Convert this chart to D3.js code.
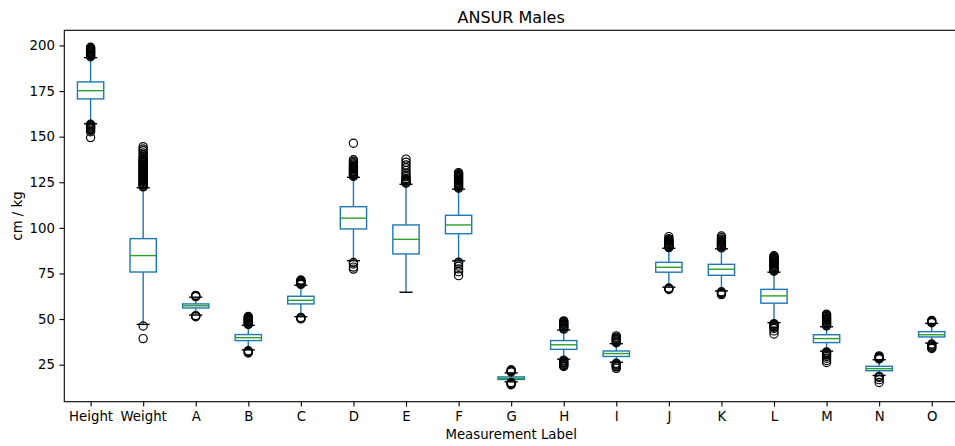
<!DOCTYPE html>
<html>
<head>
<meta charset="utf-8">
<script src="https://cdn.jsdelivr.net/npm/d3@7"></script>
<style>
  html, body { margin: 0; padding: 0; background: #fff; }
  svg { display: block; font-family: "DejaVu Sans", sans-serif; }
</style>
</head>
<body>
<svg id="chart" width="955" height="446"></svg>
<script>
const categories = ["Height","Weight","A","B","C","D","E","F","G","H","I","J","K","L","M","N","O"];
const q1         = [170.7, 75.8, 56.1, 38.2, 58.3,  99.4,  85.7,  96.8, 16.9, 33.4, 29.5, 75.7, 74.0, 58.7, 37.1, 21.7, 40.2];
const medians    = [175.2, 84.8, 57.3, 39.8, 60.3, 105.3,  93.7, 101.6, 17.5, 35.9, 31.1, 78.4, 77.3, 62.7, 39.3, 22.8, 41.4];
const q3         = [180.0, 94.1, 58.3, 41.5, 62.5, 111.6, 101.6, 106.9, 18.3, 38.2, 32.5, 81.1, 80.0, 66.3, 41.4, 24.1, 43.1];
const whiskerLow = [157.1, 47.1, 52.2, 33.1, 51.3,  82.0,  64.7,  81.9, 15.6, 28.0, 26.3, 67.5, 65.4, 48.0, 32.4, 19.1, 36.8];
const whiskerHigh= [193.3,122.0, 62.0, 46.6, 68.5, 127.7, 123.9, 121.2, 20.5, 44.0, 36.5, 88.8, 88.5, 75.7, 45.8, 27.7, 47.6];
const outliers = [
  [193.8,194.2,194.6,195.0,195.4,195.8,196.2,196.6,197.0,197.4,197.8,198.2,198.6,199.0,
   156.8,156.3,155.8,155.3,154.8,154.3,153.5,152.7,149.5],
  [122.5,123,123.5,124,124.5,125,125.5,126,126.5,127,127.5,128,128.5,129,129.5,130,130.5,131,131.5,132,
   132.5,133,133.5,134,134.5,135,135.5,136,136.5,137,137.5,138.2,139,140,141,142.3,143.2,144.5,
   46.2,39.3],
  [62.3,62.7,63.0, 51.9,51.6,51.3],
  [47.0,47.4,47.8,48.2,48.6,49.0,49.4,49.8,50.2,50.6,51.0,51.4, 32.6,32.2,31.8,31.4],
  [69.0,69.4,69.8,70.2,70.6,71.0,71.4, 50.9,50.5,50.1],
  [128.2,128.7,129.2,129.7,130.2,130.7,131.2,131.7,132.2,132.7,133.2,133.7,134.3,135.0,135.7,136.5,137.3,146.4,
   81.0,80.2,78.5,77.4],
  [124.5,125,125.5,126,126.5,127,128,129,130,131.5,133,134.5,136,137.7],
  [121.7,122.2,122.7,123.2,123.7,124.2,124.7,125.2,125.7,126.2,126.7,127.2,127.7,128.2,128.7,129.2,129.7,130.3,
   81.2,80.3,79.0,77.5,76.0,73.8],
  [21.0,21.4,21.8,22.2, 15.2,14.8,14.4,14.0],
  [44.5,45,45.5,46,46.5,47,47.5,48,48.5,49, 27.5,27,26.5,26,25.5,25,24.5,24],
  [37,37.5,38,38.5,39,39.5,40,40.8, 25.8,25.3,24.8,24.3,23.8,23.0],
  [89.2,89.6,90,90.4,90.8,91.2,91.6,92,92.5,93,93.5,94,95.2, 67.0,66.6,66.2],
  [89,89.5,90,90.5,91,91.5,92,92.5,93,93.8,94.6,95.5, 65.0,64.5,64.0,63.4],
  [76.2,76.7,77.2,77.7,78.2,78.7,79.2,79.7,80.2,80.7,81.2,81.7,82.2,82.7,83.2,83.7,84.2,84.7,
   47.5,47,46.5,46,45.5,44.8,43.5,41.8],
  [46.3,46.8,47.3,47.8,48.3,48.8,49.3,49.8,50.3,50.8,51.4,52.0,52.7, 32,31.5,31,30.3,29.5,28.5,27.3,26.2],
  [28.1,28.5,28.9,29.3,29.8, 18.6,18.0,16.8,15.2],
  [48.0,48.4,48.8,49.2, 36.3,35.8,35.3,34.8,34.3,33.9]
];
const yTicks = [25, 50, 75, 100, 125, 150, 175, 200];
const title = "ANSUR Males";
const xLabel = "Measurement Label";
const yLabel = "cm / kg";

const svg = d3.select("#chart");
const padL = 64.3, padR = 958, padT = 30.3, padB = 401.7;

const x = d3.scaleLinear().domain([0.5, categories.length + 0.5]).range([padL, padR]);
const y = d3.scaleLinear().domain([4.7, 208.3]).range([padB, padT]);
const step = x(2) - x(1);
const boxW = step * 0.5, capW = step * 0.25;

const blue = "#1f77b4", green = "#2ca02c";
const g = svg.append("g");

categories.forEach((c, i) => {
  const cx = x(i + 1);
  const gg = g.append("g");
  gg.append("line").attr("x1", cx).attr("x2", cx).attr("y1", y(q1[i])).attr("y2", y(whiskerLow[i]))
    .attr("stroke", blue).attr("stroke-width", 1.4);
  gg.append("line").attr("x1", cx).attr("x2", cx).attr("y1", y(q3[i])).attr("y2", y(whiskerHigh[i]))
    .attr("stroke", blue).attr("stroke-width", 1.4);
  [whiskerLow[i], whiskerHigh[i]].forEach(v => {
    gg.append("line").attr("x1", cx - capW / 2).attr("x2", cx + capW / 2).attr("y1", y(v)).attr("y2", y(v))
      .attr("stroke", "#000").attr("stroke-width", 1.4);
  });
  gg.append("rect").attr("x", cx - boxW / 2).attr("width", boxW)
    .attr("y", y(q3[i])).attr("height", y(q1[i]) - y(q3[i]))
    .attr("fill", "none").attr("stroke", blue).attr("stroke-width", 1.4);
  gg.append("line").attr("x1", cx - boxW / 2).attr("x2", cx + boxW / 2)
    .attr("y1", y(medians[i])).attr("y2", y(medians[i]))
    .attr("stroke", green).attr("stroke-width", 1.4);
  gg.selectAll("circle").data(outliers[i]).join("circle")
    .attr("cx", cx).attr("cy", d => y(d)).attr("r", 4.1)
    .attr("fill", "none").attr("stroke", "#000").attr("stroke-width", 1.2);
});

const yAxis = d3.axisLeft(y).tickValues(yTicks).tickSize(4.9).tickPadding(4.5).tickFormat(d3.format("d"));
const ya = svg.append("g").attr("transform", `translate(${padL},0)`).call(yAxis);
const xAxis = d3.axisBottom(x).tickValues(d3.range(1, categories.length + 1))
  .tickSize(4.9).tickPadding(5).tickFormat(d => categories[d - 1]);
const xa = svg.append("g").attr("transform", `translate(0,${padB})`).call(xAxis);
[ya, xa].forEach(a => {
  a.select(".domain").remove();
  a.selectAll(".tick line").attr("stroke", "#000").attr("stroke-width", 1.1);
  a.selectAll(".tick text").attr("fill", "#000").style("font-size", "13.3px")
    .style("font-family", "'DejaVu Sans', sans-serif");
});
svg.append("rect").attr("x", padL).attr("y", padT).attr("width", padR - padL).attr("height", padB - padT)
  .attr("fill", "none").attr("stroke", "#000").attr("stroke-width", 1.1);

svg.append("text").attr("x", (padL + padR) / 2).attr("y", 23).attr("text-anchor", "middle")
  .style("font-size", "16px").attr("fill", "#000").text(title);
svg.append("text").attr("x", (padL + padR) / 2).attr("y", 439).attr("text-anchor", "middle")
  .style("font-size", "13.3px").attr("fill", "#000").text(xLabel);
svg.append("text").attr("transform", `translate(22,${(padT + padB) / 2}) rotate(-90)`)
  .attr("text-anchor", "middle").style("font-size", "13.3px").attr("fill", "#000").text(yLabel);
</script>
</body>
</html>
